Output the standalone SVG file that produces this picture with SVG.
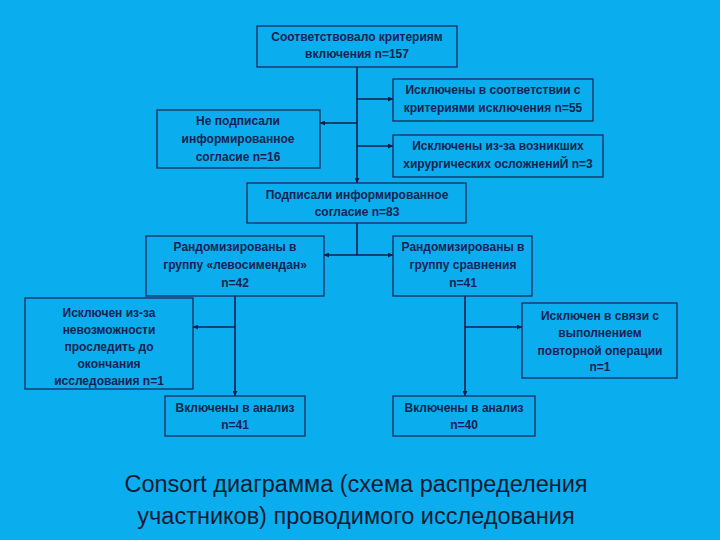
<svg xmlns="http://www.w3.org/2000/svg" width="720" height="540" viewBox="0 0 720 540">
<defs>
<marker id="ah" viewBox="0 0 10 10" refX="10" refY="5" markerWidth="5" markerHeight="5" orient="auto" markerUnits="userSpaceOnUse">
<path d="M0,0 L10,5 L0,10 z" fill="#0f1f4a"/>
</marker>
<style>
.box{fill:#0aaeee;stroke:#1b2a5a;stroke-width:1.3}
.t{font-family:"Liberation Sans",Arial,sans-serif;font-size:12px;font-weight:bold;fill:#16224f;text-anchor:middle}
.c{fill:none;stroke:#0f1f4a;stroke-width:1.6}
.ttl{font-family:"Liberation Sans",Arial,sans-serif;font-size:23.5px;fill:#111a33;text-anchor:middle}
</style>
</defs>
<rect width="720" height="540" fill="#0aaeee"/>
<g id="connectors">
<line class="c" x1="357" y1="67" x2="357" y2="183" marker-end="url(#ah)"/>
<line class="c" x1="357" y1="99" x2="393" y2="99" marker-end="url(#ah)"/>
<line class="c" x1="357" y1="123" x2="320" y2="123" marker-end="url(#ah)"/>
<line class="c" x1="357" y1="146" x2="393" y2="146" marker-end="url(#ah)"/>
<line class="c" x1="357" y1="223" x2="357" y2="255"/>
<line class="c" x1="357" y1="255" x2="324" y2="255" marker-end="url(#ah)"/>
<line class="c" x1="357" y1="255" x2="393" y2="255" marker-end="url(#ah)"/>
<line class="c" x1="235" y1="296" x2="235" y2="396" marker-end="url(#ah)"/>
<line class="c" x1="235" y1="327" x2="193" y2="327" marker-end="url(#ah)"/>
<line class="c" x1="465" y1="296" x2="465" y2="396" marker-end="url(#ah)"/>
<line class="c" x1="465" y1="327" x2="522" y2="327" marker-end="url(#ah)"/>
</g>
<g id="n1"><rect class="box" x="257" y="26" width="200" height="41"/>
<text class="t" x="357" y="41">Соответствовало критериям</text>
<text class="t" x="357" y="58">включения n=157</text></g>
<g id="n2"><rect class="box" x="393" y="79" width="200" height="42"/>
<text class="t" x="493" y="94">Исключены в соответствии с</text>
<text class="t" x="493" y="112">критериями исключения n=55</text></g>
<g id="n3"><rect class="box" x="157" y="110" width="163" height="58"/>
<text class="t" x="238" y="125">Не подписали</text>
<text class="t" x="238" y="143">информированное</text>
<text class="t" x="238" y="161">согласие n=16</text></g>
<g id="n4"><rect class="box" x="393" y="135" width="210" height="42"/>
<text class="t" x="498" y="150">Исключены из-за возникших</text>
<text class="t" x="498" y="168">хирургических осложнениЙ n=3</text></g>
<g id="n5"><rect class="box" x="247" y="183" width="219" height="40"/>
<text class="t" x="357" y="199">Подписали информированное</text>
<text class="t" x="357" y="216">согласие n=83</text></g>
<g id="n6"><rect class="box" x="146" y="236" width="178" height="60"/>
<text class="t" x="235" y="251">Рандомизированы в</text>
<text class="t" x="235" y="269">группу «левосимендан»</text>
<text class="t" x="235" y="287">n=42</text></g>
<g id="n7"><rect class="box" x="393" y="236" width="139" height="60"/>
<text class="t" x="463" y="251">Рандомизированы в</text>
<text class="t" x="463" y="269">группу сравнения</text>
<text class="t" x="463" y="287">n=41</text></g>
<g id="n8"><rect class="box" x="25" y="298" width="168" height="91"/>
<text class="t" x="109" y="317">Исключен из-за</text>
<text class="t" x="109" y="334">невозможности</text>
<text class="t" x="109" y="351">проследить до</text>
<text class="t" x="109" y="368">окончания</text>
<text class="t" x="109" y="385">исследования n=1</text></g>
<g id="n9"><rect class="box" x="522" y="303" width="155" height="75"/>
<text class="t" x="600" y="320">Исключен в связи с</text>
<text class="t" x="600" y="337">выполнением</text>
<text class="t" x="600" y="355">повторной операции</text>
<text class="t" x="600" y="371">n=1</text></g>
<g id="n10"><rect class="box" x="165" y="396" width="140" height="40"/>
<text class="t" x="235" y="412">Включены в анализ</text>
<text class="t" x="235" y="429">n=41</text></g>
<g id="n11"><rect class="box" x="393" y="396" width="142" height="40"/>
<text class="t" x="464" y="412">Включены в анализ</text>
<text class="t" x="464" y="429">n=40</text></g>
<text class="ttl" x="356" y="492">Consort диаграмма (схема распределения</text>
<text class="ttl" x="356" y="524">участников) проводимого исследования</text>
</svg>
